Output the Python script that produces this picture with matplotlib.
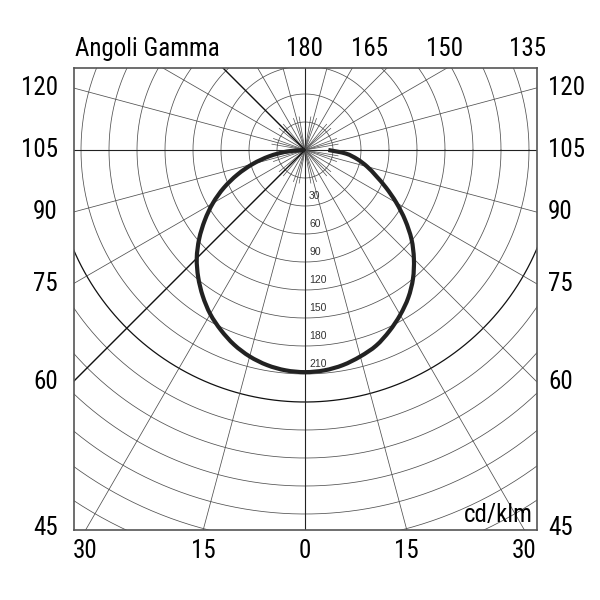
import numpy as np
import matplotlib
matplotlib.use("Agg")
import matplotlib.pyplot as plt
from matplotlib.path import Path
from matplotlib.patches import PathPatch

plt.rcParams['font.family'] = ['Liberation Sans Narrow', 'Roboto Condensed', 'Liberation Sans', 'DejaVu Sans']

# ---- data ----
gamma_deg = [0, 5, 10, 15, 20, 25, 30, 35, 40, 45, 50, 55, 60, 65, 70, 75, 80, 85, 90]
intensity_left = [238, 237, 234, 229, 222, 213, 203, 191, 178, 164, 148, 131, 114, 96, 77, 58, 39, 20, 0]
intensity_right = [238, 237, 234, 229, 223, 214, 204, 193, 180, 165, 149, 131, 113, 96, 81, 69, 57, 44, 25]
ring_values = [30, 60, 90, 120, 150, 180, 210]
bottom_labels = ["30", "15", "0", "15", "30"]
bottom_angles = [-30, -15, 0, 15, 30]
side_labels = [120, 105, 90, 75, 60, 45]
top_labels = ["180", "165", "150", "135"]
unit_label = "cd/klm"
title_label = "Angoli Gamma"

# ---- geometry (pixels -> data units) ----
PX = 30.0 / 28.0  # data units per pixel (30 cd/klm ring = 28 px)
xlim = (-231 * PX, 232 * PX)
ylim = (-380 * PX, 82 * PX)

fig = plt.figure(figsize=(6, 6), dpi=100)
ax = fig.add_axes([74 / 600, 70 / 600, 463 / 600, 462 / 600])
ax.set_xlim(*xlim)
ax.set_ylim(*ylim)
ax.set_xticks([])
ax.set_yticks([])
for s in ax.spines.values():
    s.set_color('#555555')
    s.set_linewidth(1.2)

grid_c = '#505050'
th = np.linspace(0, 2 * np.pi, 721)
# rings
for k in range(1, 17):
    r = 30 * k
    dark = (k == 9)
    ax.plot(r * np.cos(th), r * np.sin(th),
            color='#111111' if dark else grid_c,
            lw=0.9 if dark else 0.55, zorder=1)

# radial lines: major every 15 deg to the frame, minor every 10 deg near the centre
L = 800
for a in range(0, 360, 15):
    ar = np.radians(a)
    dx, dy = np.sin(ar), -np.cos(ar)
    if a % 90 == 0:
        c, w = '#222222', 0.8
    else:
        c, w = grid_c, 0.55
    ax.plot([0, L * dx], [0, L * dy], color=c, lw=w, zorder=1)
for a in range(0, 360, 10):
    if a % 15 == 0:
        continue
    ar = np.radians(a)
    dx, dy = np.sin(ar), -np.cos(ar)
    ax.plot([0, 36 * dx], [0, 36 * dy], color=grid_c, lw=0.5, zorder=1)

# dark reference lines on the left side (gamma 45 and 135)
for a in (45, 135):
    ar = np.radians(a)
    ax.plot([0, -L * np.sin(ar)], [0, -L * np.cos(ar)], color='#111111', lw=0.95, zorder=1.5)

# photometric curve (drawn as a smooth path through the measured points)
g = np.radians(np.array(gamma_deg, dtype=float))
il = np.array(intensity_left, dtype=float)
ir = np.array(intensity_right, dtype=float)
x = np.concatenate([(-il * np.sin(g))[::-1], (ir * np.sin(g))[1:]])
y = np.concatenate([(-il * np.cos(g))[::-1], (-ir * np.cos(g))[1:]])
P = np.column_stack([x, y])
verts = [P[0]]
codes = [Path.MOVETO]
n = len(P)
for i in range(n - 1):
    p0 = P[i - 1] if i > 0 else P[i]
    p1 = P[i]
    p2 = P[i + 1]
    p3 = P[i + 2] if i + 2 < n else P[i + 1]
    c1 = p1 + (p2 - p0) / 6.0
    c2 = p2 - (p3 - p1) / 6.0
    verts += [c1, c2, p2]
    codes += [Path.CURVE4] * 3
ax.add_patch(PathPatch(Path(verts, codes), facecolor='none', edgecolor='#222222',
                       lw=3.0, capstyle='butt', joinstyle='round', zorder=3))

# inner ring labels
for v in ring_values:
    ax.text(4 * PX, -(v + 30 - 10.8), str(v), fontsize=7.5, color='#333333',
            family=['Liberation Sans', 'DejaVu Sans'], ha='left', va='center', zorder=4)

big = 18
# bottom labels
ybot = ylim[0] - 21 * PX
for lab, a in zip(bottom_labels, bottom_angles):
    xb = -ylim[0] * np.tan(np.radians(a))
    ax.text(xb, ybot, lab, fontsize=big, ha='center', va='center', clip_on=False)

# side labels (placed where the line 15 deg below meets the frame)
for lab in side_labels:
    a = np.radians(lab - 15)
    ys = -xlim[1] / np.tan(a) if abs(np.cos(a)) > 1e-9 else 0.0
    ys = min(max(ys, ylim[0] + 2 * PX), ylim[1] - 15 * PX)
    ax.text(xlim[0] - 16 * PX, ys, str(lab), fontsize=big, ha='right', va='center', clip_on=False)
    ax.text(xlim[1] + 11 * PX, ys, str(lab), fontsize=big, ha='left', va='center', clip_on=False)

# top labels
top_x = [0, 65 * PX, 140 * PX, 223 * PX]
ytop = ylim[1] + 19 * PX
for lab, xt in zip(top_labels, top_x):
    ax.text(xt, ytop, lab, fontsize=big, ha='center', va='center', clip_on=False)
ax.text(xlim[0] + 1 * PX, ytop, title_label, fontsize=big, ha='left', va='center', clip_on=False)

ax.text(xlim[1] - 4 * PX, ylim[0] + 3 * PX, unit_label, fontsize=big, ha='right', va='bottom', zorder=5)

fig.savefig('out.png', dpi=100)
